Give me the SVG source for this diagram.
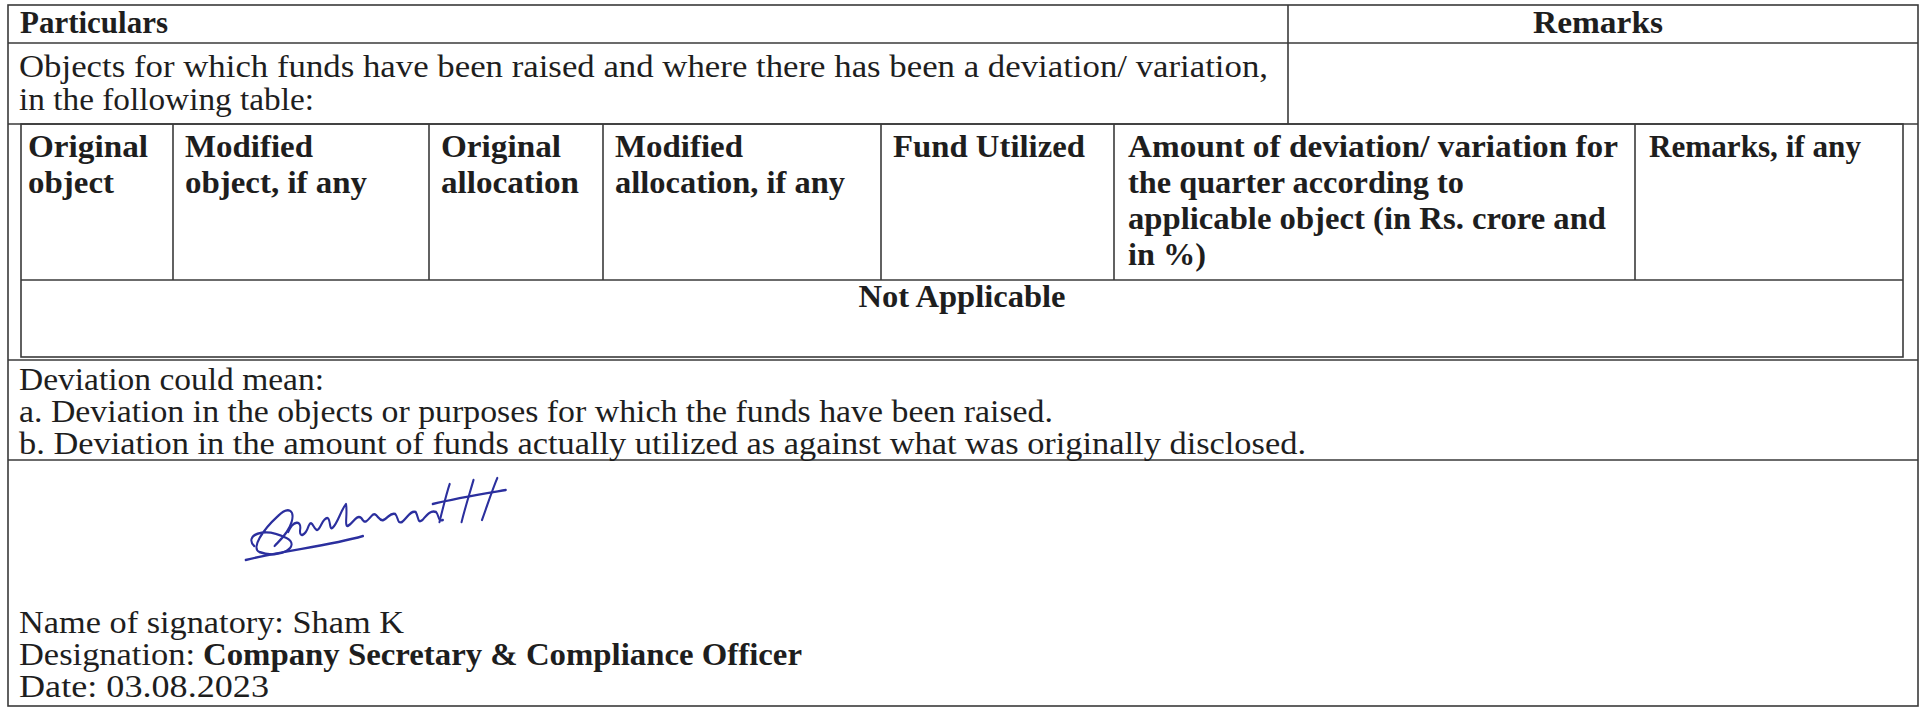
<svg xmlns="http://www.w3.org/2000/svg" width="1926" height="707" viewBox="0 0 1926 707">
<style>
.ln{stroke:#3a3a3a;stroke-width:1.6;fill:none}
.b{font-family:"Liberation Serif",serif;font-weight:bold;font-size:31px;fill:#1e1e1e}
.r{font-family:"Liberation Serif",serif;font-size:31px;fill:#1e1e1e}
.sig{stroke:#2b2f9e;stroke-width:2.4;fill:none;stroke-linecap:round;stroke-linejoin:round}
</style>
<rect width="1926" height="707" fill="#ffffff"/>
<g id="connectors">
<rect class="ln" x="8" y="5" width="1910" height="701"/>
<line class="ln" x1="8" y1="43" x2="1918" y2="43"/>
<line class="ln" x1="1288" y1="5" x2="1288" y2="124"/>
<line class="ln" x1="8" y1="124" x2="1918" y2="124"/>
<rect class="ln" x="21" y="124" width="1882" height="233"/>
<line class="ln" x1="21" y1="280" x2="1903" y2="280"/>
<line class="ln" x1="173" y1="124" x2="173" y2="280"/>
<line class="ln" x1="429" y1="124" x2="429" y2="280"/>
<line class="ln" x1="603" y1="124" x2="603" y2="280"/>
<line class="ln" x1="881" y1="124" x2="881" y2="280"/>
<line class="ln" x1="1114" y1="124" x2="1114" y2="280"/>
<line class="ln" x1="1635" y1="124" x2="1635" y2="280"/>
<line class="ln" x1="8" y1="360" x2="1918" y2="360"/>
<line class="ln" x1="8" y1="460" x2="1918" y2="460"/>
</g>
<g id="header">
<text class="b" x="20" y="33" textLength="148" lengthAdjust="spacingAndGlyphs">Particulars</text>
<text class="b" x="1598" y="33" text-anchor="middle" textLength="130" lengthAdjust="spacingAndGlyphs">Remarks</text>
</g>
<g id="objects-row">
<text class="r" x="19" y="77" textLength="1249" lengthAdjust="spacingAndGlyphs">Objects for which funds have been raised and where there has been a deviation/ variation,</text>
<text class="r" x="19" y="110" textLength="295" lengthAdjust="spacingAndGlyphs">in the following table:</text>
</g>
<g id="inner-table">
<text class="b" x="28" y="157" textLength="120" lengthAdjust="spacingAndGlyphs">Original</text>
<text class="b" x="28" y="193" textLength="86" lengthAdjust="spacingAndGlyphs">object</text>
<text class="b" x="185" y="157" textLength="128" lengthAdjust="spacingAndGlyphs">Modified</text>
<text class="b" x="185" y="193" textLength="182" lengthAdjust="spacingAndGlyphs">object, if any</text>
<text class="b" x="441" y="157" textLength="120" lengthAdjust="spacingAndGlyphs">Original</text>
<text class="b" x="441" y="193" textLength="138" lengthAdjust="spacingAndGlyphs">allocation</text>
<text class="b" x="615" y="157" textLength="128" lengthAdjust="spacingAndGlyphs">Modified</text>
<text class="b" x="615" y="193" textLength="230" lengthAdjust="spacingAndGlyphs">allocation, if any</text>
<text class="b" x="893" y="157" textLength="192" lengthAdjust="spacingAndGlyphs">Fund Utilized</text>
<text class="b" x="1128" y="157" textLength="490" lengthAdjust="spacingAndGlyphs">Amount of deviation/ variation for</text>
<text class="b" x="1128" y="193" textLength="336" lengthAdjust="spacingAndGlyphs">the quarter according to</text>
<text class="b" x="1128" y="229" textLength="478" lengthAdjust="spacingAndGlyphs">applicable object (in Rs. crore and</text>
<text class="b" x="1128" y="265" textLength="78" lengthAdjust="spacingAndGlyphs">in %)</text>
<text class="b" x="1649" y="157" textLength="212" lengthAdjust="spacingAndGlyphs">Remarks, if any</text>
<text class="b" x="962" y="307" text-anchor="middle" textLength="207" lengthAdjust="spacingAndGlyphs">Not Applicable</text>
</g>
<g id="deviation-note">
<text class="r" x="19" y="390" textLength="305" lengthAdjust="spacingAndGlyphs">Deviation could mean:</text>
<text class="r" x="19" y="422" textLength="1034" lengthAdjust="spacingAndGlyphs">a. Deviation in the objects or purposes for which the funds have been raised.</text>
<text class="r" x="19" y="454" textLength="1287" lengthAdjust="spacingAndGlyphs">b. Deviation in the amount of funds actually utilized as against what was originally disclosed.</text>
</g>
<g id="signature" transform="translate(40,-10) scale(0.85,1)">
<path class="sig" d="M252 556 C240 546 262 536 290 548 C308 556 282 570 258 562 C248 558 262 540 280 526 C292 516 300 520 296 532 C292 544 280 552 276 556"/>
<path class="sig" d="M242 570 C290 560 340 556 380 546"/>
<path class="sig" d="M292 542 C298 530 308 530 306 540 C305 548 312 546 316 536 C320 528 322 540 326 540 C330 540 332 528 338 528 C342 528 340 540 344 538 C350 534 354 520 360 514 C362 524 358 536 362 536 C368 534 372 524 378 528 C382 534 384 532 390 526 C396 520 398 532 404 530 C410 528 412 522 418 524 C422 528 420 534 426 532 C432 528 436 520 442 522 C446 528 444 534 450 530 C456 524 460 520 466 522 C470 526 468 532 474 530"/>
<path class="sig" d="M470 532 C474 518 478 504 482 494"/>
<path class="sig" d="M496 532 C500 518 506 502 510 490"/>
<path class="sig" d="M520 530 C526 516 532 500 538 488"/>
<path class="sig" d="M462 514 C490 508 520 504 548 500"/>
</g>
<g id="signatory">
<text class="r" x="19" y="633" textLength="385" lengthAdjust="spacingAndGlyphs">Name of signatory: Sham K</text>
<text class="r" x="19" y="665" textLength="176" lengthAdjust="spacingAndGlyphs">Designation:</text>
<text class="b" x="203" y="665" textLength="599" lengthAdjust="spacingAndGlyphs">Company Secretary &amp; Compliance Officer</text>
<text class="r" x="19" y="697" textLength="250" lengthAdjust="spacingAndGlyphs">Date: 03.08.2023</text>
</g>
</svg>
